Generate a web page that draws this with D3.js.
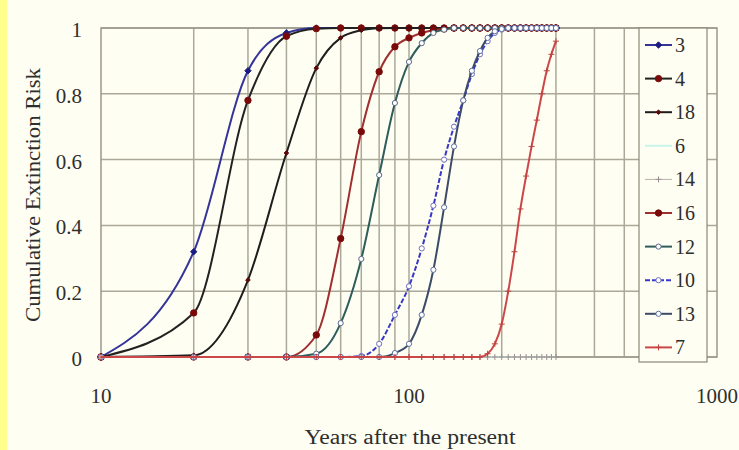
<!DOCTYPE html>
<html>
<head>
<meta charset="utf-8">
<script src="https://cdn.jsdelivr.net/npm/d3@7"></script>
<style>
  body { margin: 0; background: #fefef2; }
  svg text { font-family: "Liberation Serif", "Times New Roman", serif; fill: #2e2e2e; }
</style>
</head>
<body>
<svg id="chart" width="739" height="450"></svg>
<script>
// layout
const svgWidth = 739;
const svgHeight = 450;
const plotLeft = 101;
const plotRight = 717;
const plotTop = 28;
const plotBottom = 357;

// data: years after the present, one value per series
const years = [10, 20, 30, 40, 50, 60, 70, 80, 90, 100, 110, 120, 130, 140, 150,
	160, 170, 180, 190, 200, 210, 220, 230, 240, 250, 260, 270, 280, 290, 300];

const s3 = [0, 0.32, 0.87, 0.985, 1, 1, 1, 1, 1, 1, 1, 1, 1, 1, 1,
	1, 1, 1, 1, 1, 1, 1, 1, 1, 1, 1, 1, 1, 1, 1];
const s4 = [0, 0.134, 0.78, 0.975, 0.998, 1, 1, 1, 1, 1, 1, 1, 1, 1, 1,
	1, 1, 1, 1, 1, 1, 1, 1, 1, 1, 1, 1, 1, 1, 1];
const s18 = [0, 0.005, 0.234, 0.62, 0.878, 0.97, 0.993, 0.999, 1, 1, 1, 1, 1, 1, 1,
	1, 1, 1, 1, 1, 1, 1, 1, 1, 1, 1, 1, 1, 1, 1];
const s6 = [0, 0, 0, 0, 0, 0, 0, 0, 0, 0, 0, 0, 0, 0, 0,
	0, 0, 0, 0, 0, 0, 0, 0, 0, 0, 0, 0, 0, 0, 0];
const s14 = [0, 0, 0, 0, 0, 0, 0, 0, 0, 0, 0, 0, 0, 0, 0,
	0, 0, 0, 0, 0, 0, 0, 0, 0, 0, 0, 0, 0, 0, 0];
const s16 = [0, 0, 0, 0, 0.067, 0.36, 0.685, 0.867, 0.943, 0.97, 0.985, 0.993, 0.997, 1, 1,
	1, 1, 1, 1, 1, 1, 1, 1, 1, 1, 1, 1, 1, 1, 1];
const s12 = [0, 0, 0, 0, 0.01, 0.103, 0.298, 0.553, 0.772, 0.897, 0.954, 0.985, 0.995, 1, 1,
	1, 1, 1, 1, 1, 1, 1, 1, 1, 1, 1, 1, 1, 1, 1];
const s10 = [0, 0, 0, 0, 0, 0, 0.003, 0.04, 0.128, 0.215, 0.33, 0.46, 0.6, 0.7, 0.78,
	0.86, 0.92, 0.96, 0.985, 0.995, 1, 1, 1, 1, 1, 1, 1, 1, 1, 1];
const s13 = [0, 0, 0, 0, 0, 0, 0, 0, 0.012, 0.04, 0.128, 0.265, 0.455, 0.64, 0.78,
	0.87, 0.93, 0.97, 0.99, 0.997, 1, 1, 1, 1, 1, 1, 1, 1, 1, 1];
const s7 = [0, 0, 0, 0, 0, 0, 0, 0, 0, 0, 0, 0, 0, 0, 0,
	0, 0, 0.01, 0.04, 0.1, 0.2, 0.32, 0.45, 0.55, 0.64, 0.72, 0.8, 0.87, 0.92, 0.96];

const seriesNames = ["3", "4", "18", "6", "14", "16", "12", "10", "13", "7"];
const seriesValues = [s3, s4, s18, s6, s14, s16, s12, s10, s13, s7];

const yTicks = [0, 0.2, 0.4, 0.6, 0.8, 1];
const yTickLabels = ["0", "0.2", "0.4", "0.6", "0.8", "1"];
const xTicks = [10, 100, 1000];
const xTickLabels = ["10", "100", "1000"];
const xGrid = [20, 30, 40, 50, 60, 70, 80, 90, 100, 200, 300, 400, 500, 600, 700, 800, 900];

// style for each series (line colour, marker type)
const styles = {
	"3": { line: "#34349a", width: 2, marker: "diamond", fill: "#1c1c80", stroke: "#1c1c80", size: 3.2 },
	"4": { line: "#222222", width: 2, marker: "circle", fill: "#7a0a0a", stroke: "#7a0a0a", size: 3.2 },
	"18": { line: "#1e1e1e", width: 2, marker: "diamond", fill: "#5a0808", stroke: "#5a0808", size: 2.3 },
	"6": { line: "#c8f4ec", width: 2, marker: "none" },
	"14": { line: "#b8b0b0", width: 1, marker: "plus", fill: "none", stroke: "#9a9090", size: 3 },
	"16": { line: "#a03030", width: 2, marker: "circle", fill: "#7a0a0a", stroke: "#7a0a0a", size: 3.2 },
	"12": { line: "#2f5c5c", width: 2, marker: "circle", fill: "#ffffff", stroke: "#5a6a8a", size: 2.6 },
	"10": { line: "#3838c8", width: 2, dash: "5,2", marker: "circle", fill: "#ffffff", stroke: "#7070c0", size: 2.6 },
	"13": { line: "#3c4c68", width: 2, marker: "circle", fill: "#ffffff", stroke: "#6070a0", size: 2.6 },
	"7": { line: "#cc4848", width: 2, marker: "plus", fill: "none", stroke: "#c04040", size: 3 }
};

const svg = d3.select("#chart");

// page background with yellow stripe on the left
svg.append("rect").attr("width", svgWidth).attr("height", svgHeight).attr("fill", "#fefef2");
svg.append("rect").attr("width", 7).attr("height", svgHeight).attr("fill", "#ffff8c");

// scales
const xScale = d3.scaleLog().domain([10, 1000]).range([plotLeft, plotRight]);
const yScale = d3.scaleLinear().domain([0, 1]).range([plotBottom, plotTop]);

// grid
const grid = svg.append("g").attr("stroke", "#aaa898").attr("stroke-width", 1.5);
grid.selectAll(".vgrid").data(xGrid).enter().append("line")
	.attr("x1", d => xScale(d)).attr("x2", d => xScale(d))
	.attr("y1", plotTop).attr("y2", plotBottom);
grid.selectAll(".hgrid").data(yTicks).enter().append("line")
	.attr("x1", plotLeft).attr("x2", plotRight)
	.attr("y1", d => yScale(d)).attr("y2", d => yScale(d));
svg.append("rect")
	.attr("x", plotLeft).attr("y", plotTop)
	.attr("width", plotRight - plotLeft).attr("height", plotBottom - plotTop)
	.attr("fill", "none").attr("stroke", "#9a988a").attr("stroke-width", 1.5);

// axis labels
svg.selectAll(".ytick").data(yTicks).enter().append("text")
	.attr("x", 82).attr("y", d => yScale(d) + 9)
	.attr("text-anchor", "end").style("font-size", "21px")
	.text((d, i) => yTickLabels[i]);
svg.selectAll(".xtick").data(xTicks).enter().append("text")
	.attr("x", d => xScale(d)).attr("y", 403)
	.attr("text-anchor", "middle").style("font-size", "21px")
	.text((d, i) => xTickLabels[i]);

svg.append("text")
	.attr("x", 410).attr("y", 444)
	.attr("text-anchor", "middle").style("font-size", "20px")
	.attr("textLength", 211).attr("lengthAdjust", "spacingAndGlyphs")
	.text("Years after the present");
svg.append("text")
	.attr("transform", "translate(40,195) rotate(-90)")
	.attr("text-anchor", "middle").style("font-size", "20px")
	.attr("textLength", 254).attr("lengthAdjust", "spacingAndGlyphs")
	.text("Cumulative Extinction Risk");

// marker drawing helper
function drawMarker(g, st, x, y) {
	if (st.marker == "circle") {
		g.append("circle").attr("cx", x).attr("cy", y).attr("r", st.size)
			.attr("fill", st.fill).attr("stroke", st.stroke).attr("stroke-width", 1);
	} else if (st.marker == "diamond") {
		const s = st.size;
		g.append("path")
			.attr("d", `M${x},${y - s}L${x + s},${y}L${x},${y + s}L${x - s},${y}Z`)
			.attr("fill", st.fill).attr("stroke", st.stroke).attr("stroke-width", 1);
	} else if (st.marker == "plus") {
		const s = st.size;
		g.append("path")
			.attr("d", `M${x - s},${y}H${x + s}M${x},${y - s}V${y + s}`)
			.attr("stroke", st.stroke).attr("stroke-width", 1);
	}
}

// series lines
const line = d3.line()
	.x(d => xScale(d[0]))
	.y(d => yScale(d[1]))
	.curve(d3.curveMonotoneX);

const plot = svg.append("g");
seriesNames.forEach(function (name, k) {
	const st = styles[name];
	const pts = years.map((yr, i) => [yr, seriesValues[k][i]]);
	const g = plot.append("g");
	g.append("path")
		.attr("d", line(pts))
		.attr("fill", "none")
		.attr("stroke", st.line)
		.attr("stroke-width", st.width)
		.attr("stroke-dasharray", st.dash || null);
	pts.forEach(p => drawMarker(g, st, xScale(p[0]), yScale(p[1])));
});

// legend
const legend = svg.append("g");
legend.append("rect")
	.attr("x", 639).attr("y", 28).attr("width", 68).attr("height", 334)
	.attr("fill", "#fefef2").attr("stroke", "#8a887a").attr("stroke-width", 1.2);
seriesNames.forEach(function (name, i) {
	const st = styles[name];
	const cy = 45 + i * 33.6;
	legend.append("line")
		.attr("x1", 645).attr("x2", 672).attr("y1", cy).attr("y2", cy)
		.attr("stroke", st.line).attr("stroke-width", st.width)
		.attr("stroke-dasharray", st.dash || null);
	drawMarker(legend, st, 658.5, cy);
	legend.append("text")
		.attr("x", 675).attr("y", cy + 7)
		.style("font-size", "20px")
		.text(name);
});
</script>
</body>
</html>
